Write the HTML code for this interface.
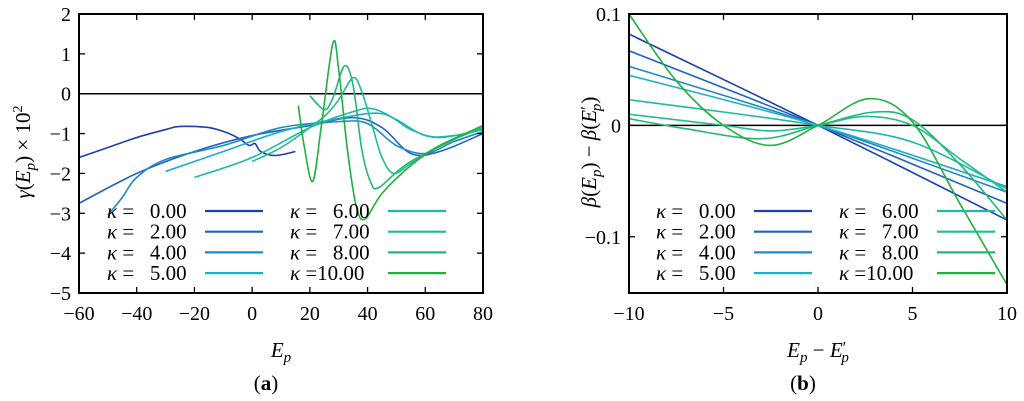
<!DOCTYPE html>
<html><head><meta charset="utf-8"><style>
body{margin:0;background:#fff;}
svg{display:block;}
svg text{font-family:"Liberation Serif","DejaVu Serif",serif;}
</style></head><body>
<svg id="fig" width="1024" height="401" viewBox="0 0 1024 401" font-family="Liberation Serif, serif">
<g id="left"></g>
<g id="right"></g>
</svg>
<script>
const kappaLabels=["0.00","2.00","4.00","5.00","6.00","7.00","8.00","10.00"];
const colors=["#1b3fae","#1f62c0","#2089c4","#1eb0c4","#1fb8a8","#1fbe92","#20b874","#1fb03e"];
// Panel a data
const aX0=[-60,-50,-40,-30,-25,-15,-8,-4,-1,1,3,8,15];
const aY0=[-1.6,-1.35,-1.1,-0.9,-0.82,-0.85,-1.0,-1.15,-1.3,-1.25,-1.45,-1.55,-1.45];
const aX2=[-60,-40,-20,0,20,35,45,55,65,80];
const aY2=[-2.75,-2.0,-1.45,-1.05,-0.8,-0.6,-0.85,-1.5,-1.45,-1.0];
const aX4=[-50,-45,-40,-30,-10,10,30,40,50,60,70,80];
const aY4=[-3.05,-2.6,-2.1,-1.65,-1.3,-0.85,-0.7,-0.75,-1.3,-1.5,-1.2,-0.95];
const aX5=[-30,-10,10,30,45,55,65,80];
const aY5=[-1.95,-1.45,-0.95,-0.62,-0.5,-0.9,-1.1,-0.9];
const aX6=[-20,0,20,35,42,50,60,70,80];
const aY6=[-2.1,-1.6,-0.85,-0.45,-0.38,-0.65,-1.05,-1.05,-0.9];
const aX7=[0,10,20,26,30,35,38,42,45,49,55,65,80];
const aY7=[-1.7,-1.35,-0.85,-0.5,-0.15,0.4,0.05,-0.9,-1.6,-2.0,-1.75,-1.3,-0.85];
const aX8=[20,25,28,32,35,38,41,44,55,80];
const aY8=[-0.05,-0.4,-0.1,0.7,0.2,-1.4,-2.2,-2.35,-1.7,-0.8];
const aX10=[16,18,21,24,28,30,33,36,39,45,55,65,80];
const aY10=[-0.3,-1.3,-2.2,-0.8,1.27,0.6,-1.4,-2.8,-3.15,-2.5,-1.8,-1.3,-0.8];
const aXs=[aX0,aX2,aX4,aX5,aX6,aX7,aX8,aX10];
const aYs=[aY0,aY2,aY4,aY5,aY6,aY7,aY8,aY10];
const aXTicks=[-60,-40,-20,0,20,40,60,80];
const aYTicks=[2,1,0,-1,-2,-3,-4,-5];
// Panel b data
const bX0=[-10,0,10], bY0=[0.082,0,-0.085];
const bX2=[-10,0,10], bY2=[0.067,0,-0.07];
const bX4=[-10,0,10], bY4=[0.053,0,-0.06];
const bX5=[-10,0,10], bY5=[0.045,0,-0.055];
const bX6=[-10,-5,0,5,10], bY6=[0.023,0.012,0,-0.015,-0.057];
const bX7=[-10,-5,-2.5,0,2.5,5,7.5,10], bY7=[0.01,0.0,-0.005,0,0.008,0.0,-0.03,-0.06];
const bX8=[-10,-7,-3,0,3,5,7.5,10], bY8=[0.006,-0.003,-0.012,0,0.012,0.005,-0.035,-0.085];
const bX10=[-10,-7.5,-5,-2.5,0,2.7,5,7.5,10], bY10=[0.1,0.04,0.0,-0.018,0,0.024,0.003,-0.07,-0.143];
const bXs=[bX0,bX2,bX4,bX5,bX6,bX7,bX8,bX10];
const bYs=[bY0,bY2,bY4,bY5,bY6,bY7,bY8,bY10];
const bXTicks=[-10,-5,0,5,10];
const bYTicks=[0.1,0,-0.1];

const NS="http://www.w3.org/2000/svg";
const FF="Liberation Serif, DejaVu Serif, serif";
function mk(p,tag,at,txt){const e=document.createElementNS(NS,tag);for(const k in at)e.setAttribute(k,at[k]);if(tag==="text")e.setAttribute("font-family",FF);if(txt!==undefined)e.textContent=txt;p.appendChild(e);return e;}
function smooth(pts){let d="M"+pts[0][0]+","+pts[0][1];for(let i=0;i<pts.length-1;i++){const p0=pts[Math.max(0,i-1)],p1=pts[i],p2=pts[i+1],p3=pts[Math.min(pts.length-1,i+2)];const c1=[p1[0]+(p2[0]-p0[0])/6,p1[1]+(p2[1]-p0[1])/6],c2=[p2[0]-(p3[0]-p1[0])/6,p2[1]-(p3[1]-p1[1])/6];d+=" C"+c1+" "+c2+" "+p2;}return d;}
function fmt(v){return (v<0?"\u2212":"")+Math.abs(v);}
function panel(g,L,R,T,B,xmin,xmax,ymin,ymax,xt,yt,Xs,Ys,legX,prefix){
 const sx=v=>L+(v-xmin)/(xmax-xmin)*(R-L), sy=v=>B-(v-ymin)/(ymax-ymin)*(B-T);
 let e=mk(g,"line",{x1:L,x2:R,y1:sy(0),y2:sy(0),stroke:"#000","stroke-width":1.5});
 
 
 for(let i=0;i<Xs.length;i++){
  const pts=Xs[i].map((x,j)=>[sx(x),sy(Ys[i][j])]);
  e=mk(g,"path",{d:smooth(pts),fill:"none",stroke:colors[i],"stroke-width":1.6});
  
  
 }
 for(const v of xt){const x=sx(v);
  mk(g,"line",{x1:x,x2:x,y1:B,y2:B-6,stroke:"#000","stroke-width":1.3});
  mk(g,"line",{x1:x,x2:x,y1:T,y2:T+6,stroke:"#000","stroke-width":1.3});
  e=mk(g,"text",{x:x,y:B+27,"font-size":20,"text-anchor":"middle"},fmt(v));
  
  }
 for(const v of yt){const y=sy(v);
  mk(g,"line",{x1:L,x2:L+6,y1:y,y2:y,stroke:"#000","stroke-width":1.3});
  mk(g,"line",{x1:R,x2:R-6,y1:y,y2:y,stroke:"#000","stroke-width":1.3});
  e=mk(g,"text",{x:L-8,y:y+7,"font-size":20,"text-anchor":"end"},fmt(v));
  
  }
 e=mk(g,"rect",{x:L,y:T,width:R-L,height:B-T,fill:"none",stroke:"#000","stroke-width":2});
 
 
 for(let i=0;i<8;i++){const c=Math.floor(i/4),r=i%4;const tx=legX+c*183,y=211+r*20.7;
  const lg=mk(g,"g",{});
  
  
  const lab=kappaLabels[i].length>4?" =":" = \u2007";
  const t=mk(lg,"text",{x:tx,y:y+7,"font-size":21});
  mk(t,"tspan",{"font-style":"italic"},"\u03ba");
  mk(t,"tspan",{},lab+kappaLabels[i]);
  mk(lg,"line",{x1:tx+98,x2:tx+156,y1:y,y2:y,stroke:colors[i],"stroke-width":2.2});
 }
}
const gl=document.getElementById("left"),gr=document.getElementById("right");
panel(gl,79,483,14,293,-60,80,-5,2,aXTicks,aYTicks,aXs,aYs,107,"a");
panel(gr,629,1007,14,293,-10,10,-0.1505,0.1,bXTicks,bYTicks,bXs,bYs,656,"b");
function lab(p,x,y,html,name,rot){const e=mk(p,"text",{x:x,y:y,"font-size":21,"text-anchor":"middle"});if(rot)e.setAttribute("transform","rotate(-90 "+x+" "+y+")");e.innerHTML=html;}
lab(gl,281,357,'<tspan font-style="italic">E</tspan><tspan font-style="italic" font-size="15" dy="5">p</tspan>',"a-x-axis-title");
lab(gl,30,152,'<tspan font-style="italic">γ</tspan>(<tspan font-style="italic">E</tspan><tspan font-style="italic" font-size="15" dy="5">p</tspan><tspan dy="-5">) × 10</tspan><tspan font-size="14" dy="-8">2</tspan>',"a-y-axis-title",true);
lab(gr,818,357,'<tspan font-style="italic">E</tspan><tspan font-style="italic" font-size="15" dy="5">p</tspan><tspan dy="-5"> − </tspan><tspan font-style="italic">E</tspan><tspan font-size="17" dy="-4">′</tspan><tspan font-style="italic" font-size="15" dx="-5" dy="9">p</tspan>',"b-x-axis-title");
lab(gr,596,152,'<tspan font-style="italic">β</tspan>(<tspan font-style="italic">E</tspan><tspan font-style="italic" font-size="15" dy="5">p</tspan><tspan dy="-5">) − </tspan><tspan font-style="italic">β</tspan>(<tspan font-style="italic">E</tspan><tspan font-size="17" dy="-4">′</tspan><tspan font-style="italic" font-size="15" dx="-5" dy="9">p</tspan><tspan dy="-5">)</tspan>',"b-y-axis-title",true);
lab(gl,266,390,'(<tspan font-weight="bold">a</tspan>)',"a-caption");
lab(gr,803,390,'(<tspan font-weight="bold">b</tspan>)',"b-caption");
</script>
</body></html>
